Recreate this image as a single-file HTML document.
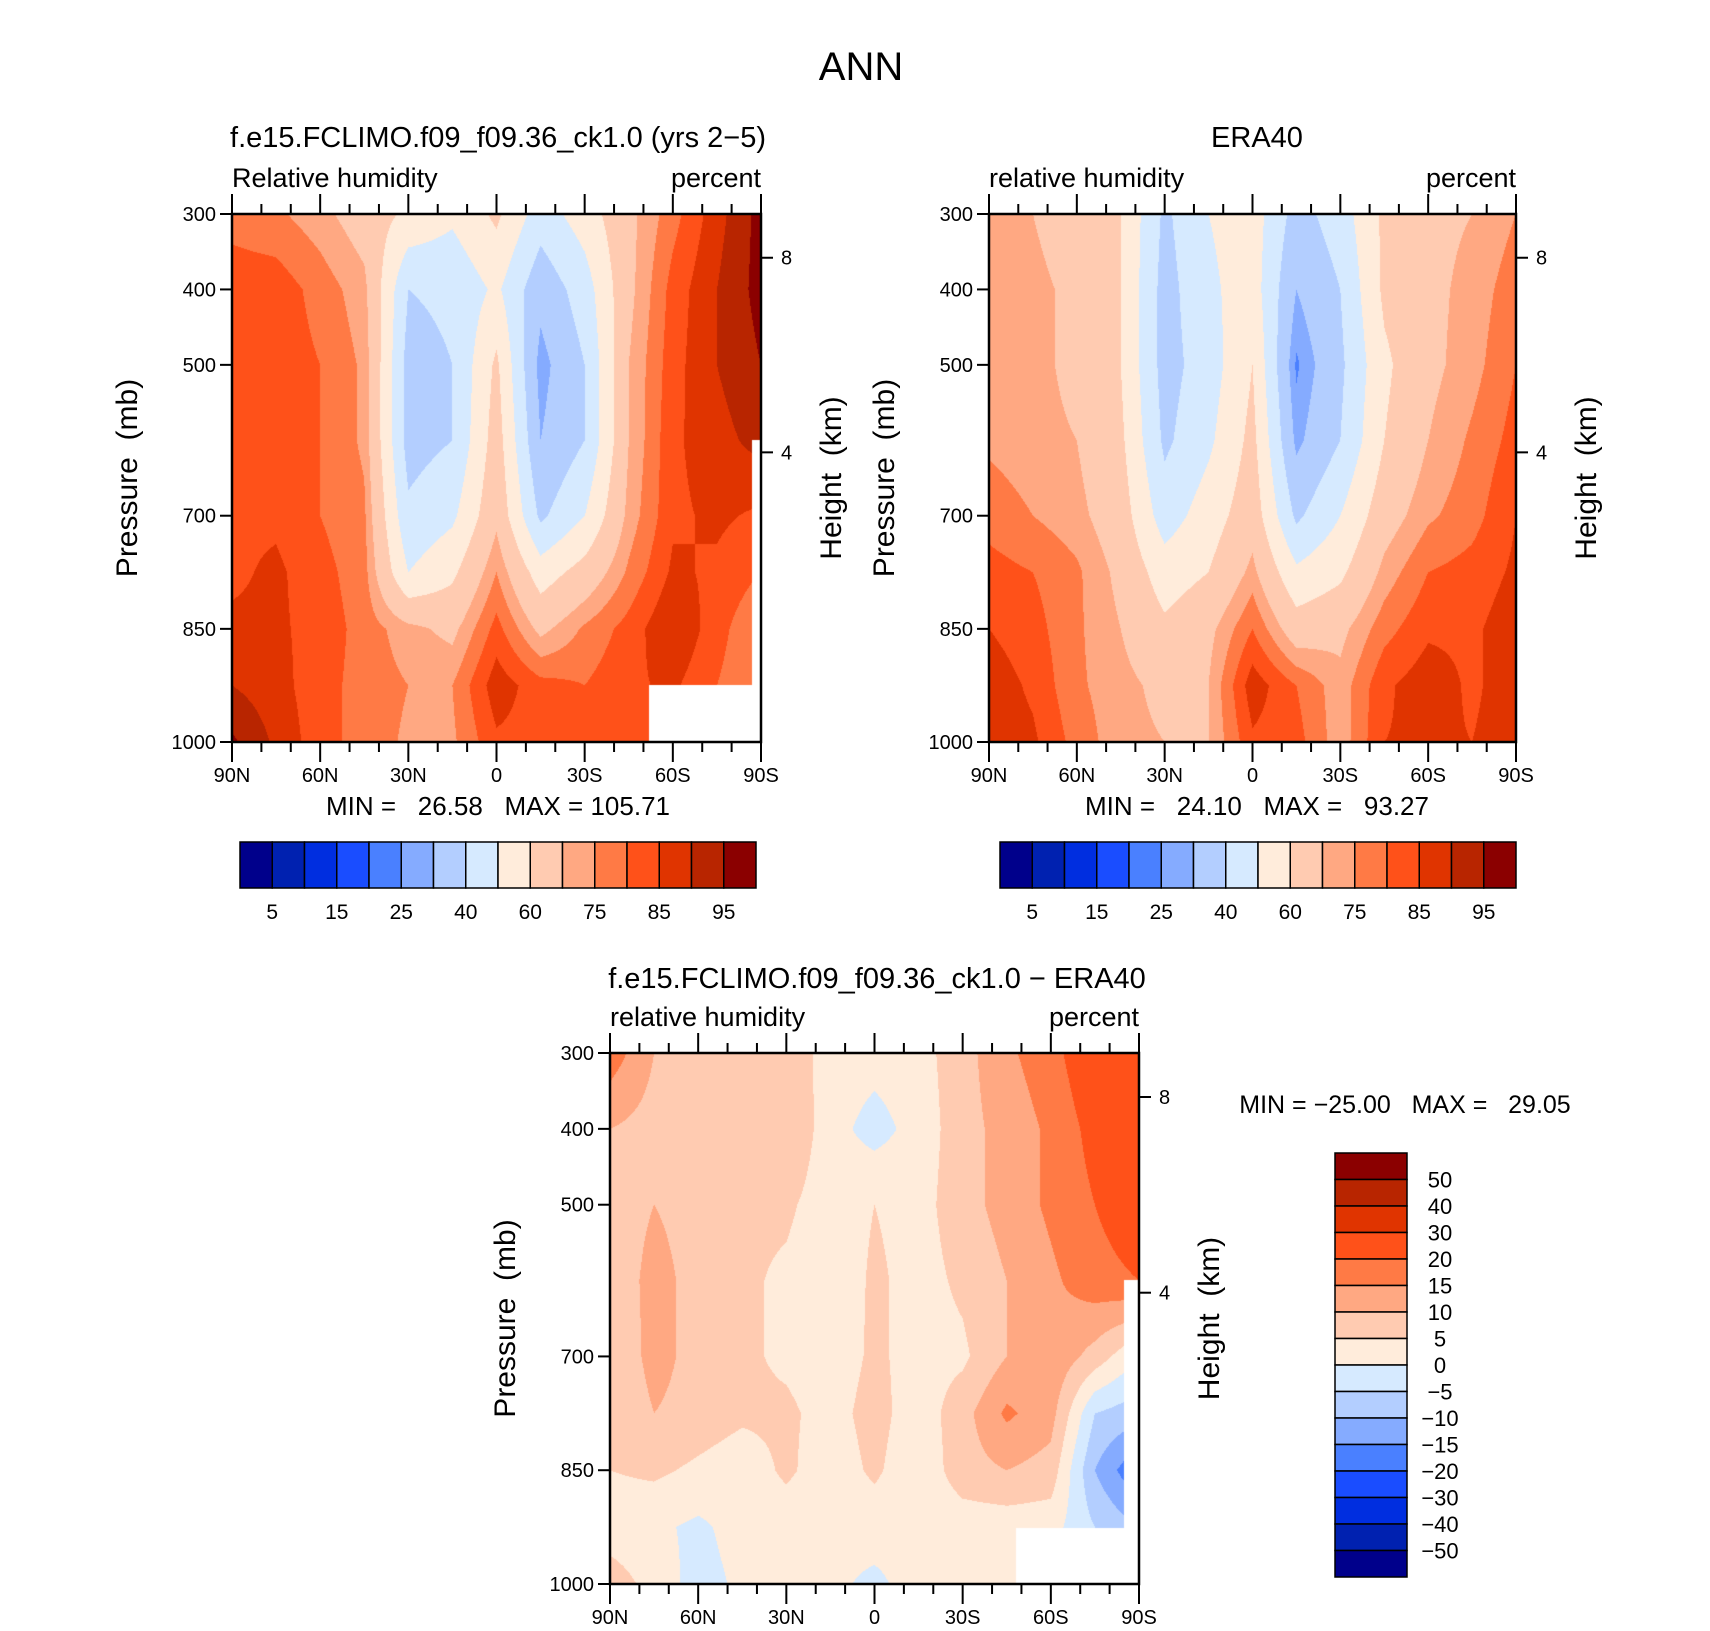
<!DOCTYPE html>
<html><head><meta charset="utf-8">
<style>
html,body{margin:0;padding:0;background:#fff;}
#wrap{position:relative;width:1710px;height:1631px;overflow:hidden;}
canvas{position:absolute;}
svg{position:absolute;left:0;top:0;}
text{font-family:"Liberation Sans",sans-serif;fill:#000;white-space:pre;}
</style></head>
<body>
<div id="wrap">
<canvas id="c1"></canvas>
<canvas id="c2"></canvas>
<canvas id="c3"></canvas>
<svg id="s" width="1710" height="1631"></svg>
</div>
<script>
// ---- data ----
const lats = [90,75,60,45,30,15,0,-15,-30,-45,-60,-75,-90];
const pres = [300,400,500,600,700,775,850,925,1000];
const modelRH = [
 [78,76,72,66,58,52,62,45,55,68,78,88,97],
 [83,83,78,72,40,42,52,33,45,68,82,90,97],
 [83,83,80,74,36,40,62,27,40,70,83,90,95],
 [83,83,80,74,36,40,65,30,40,70,84,88,92],
 [84,84,80,76,42,48,68,38,50,72,84,86,84],
 [84,86,82,77,50,58,75,55,64,76,86,84,80],
 [86,86,83,78,72,68,82,68,76,82,90,82,75],
 [90,87,82,78,75,75,88,82,80,84,86,80,75],
 [96,89,82,78,74,74,84,83,80,82,84,80,75]];
const eraRH = [
 [72,70,65,60,38,50,55,36,45,62,68,70,75],
 [73,72,68,60,36,48,55,30,40,62,68,72,78],
 [72,72,68,60,36,45,60,24,38,58,68,73,80],
 [74,72,70,62,38,48,63,28,40,60,70,76,82],
 [78,75,72,65,45,55,66,38,50,66,74,78,85],
 [82,80,76,68,55,60,72,52,58,72,80,82,86],
 [85,82,76,70,62,68,80,65,68,78,84,84,88],
 [88,84,76,72,68,70,88,80,72,84,88,84,88],
 [88,86,78,72,70,70,84,82,72,85,86,85,88]];
const diffRH = [
 [18,10,8,6,8,3,2,3,8,14,18,25,28],
 [10,8,8,6,10,2,-2,2,8,12,16,22,26],
 [7,10,8,6,6,2,5,3,8,12,16,20,24],
 [6,12,8,6,4,1,6,3,6,10,14,18,20],
 [5,12,8,6,4,2,6,3,4,10,14,8,0],
 [5,10,8,6,6,3,7,2,8,16,12,-5,-8],
 [5,6,4,2,6,2,6,1,8,10,8,-10,-20],
 [2,1,-1,2,2,1,2,1,2,2,2,-5,-10],
 [8,3,-2,1,4,1,-1,2,1,1,1,1,1]];
const rhLevels = [5,10,15,20,25,30,40,50,60,70,75,80,85,90,95];
const diffLevels = [-50,-40,-30,-20,-15,-10,-5,0,5,10,15,20,30,40,50];
const rhTickLabels = ["5","15","25","40","60","75","85","95"];
const diffTickLabels = ["50","40","30","20","15","10","5","0","\u22125","\u221210","\u221215","\u221220","\u221230","\u221240","\u221250"];
const colors = ["#00008b","#0021b0","#002ee0","#1a4dff","#4a80ff","#85abff","#b3ceff","#d6eaff","#ffecdb","#ffcbb1","#ffa882","#ff7a45","#ff5119","#e03400","#b82500","#8b0000"];
const pTicks = [300,400,500,700,850,1000];
const latTicks = [["90N",90],["60N",60],["30N",30],["0",0],["30S",-30],["60S",-60],["90S",-90]];
// missing-data regions [latFrom, latTo, pFrom, pTo]
const modelMissing = [[-52,-90,925,1000],[-87,-90,600,1000]];
const eraMissing = [];
const diffMissing = [[-48,-90,926,1000],[-85,-90,599,1000]];

const panels = [
 {id:"c1",x0:232,x1:761,y0:214,y1:742,data:modelRH,lev:rhLevels,miss:modelMissing},
 {id:"c2",x0:989,x1:1516,y0:214,y1:742,data:eraRH,lev:rhLevels,miss:eraMissing},
 {id:"c3",x0:610,x1:1139,y0:1053,y1:1584,data:diffRH,lev:diffLevels,miss:diffMissing}];

function hex(c){return [parseInt(c.substr(1,2),16),parseInt(c.substr(3,2),16),parseInt(c.substr(5,2),16)];}
const rgb = colors.map(hex);
function idxOf(v,lev){let i=0;while(i<lev.length&&v>=lev[i])i++;return i;}
function interp(data,lat,p){
  let fx=(90-lat)/15; let i=Math.min(Math.floor(fx),lats.length-2); let tx=fx-i;
  let j=0; while(j<pres.length-2&&p>pres[j+1])j++;
  let ty=(p-pres[j])/(pres[j+1]-pres[j]);
  const a=data[j][i],b=data[j][i+1],c=data[j+1][i],d=data[j+1][i+1];
  return (a*(1-tx)+b*tx)*(1-ty)+(c*(1-tx)+d*tx)*ty;
}
panels.forEach(P=>{
  const cv=document.getElementById(P.id);
  const w=P.x1-P.x0,h=P.y1-P.y0;
  cv.width=w;cv.height=h;cv.style.left=P.x0+"px";cv.style.top=P.y0+"px";
  const ctx=cv.getContext("2d");const im=ctx.createImageData(w,h);
  for(let y=0;y<h;y++){const p=300+700*(y+0.5)/h;
    for(let x=0;x<w;x++){const lat=90-180*(x+0.5)/w;
      let col=rgb[idxOf(interp(P.data,lat,p),P.lev)];
      for(const m of P.miss){ if(lat<=m[0]&&lat>=m[1]&&p>=m[2]&&p<=m[3]) col=[255,255,255]; }
      const k=(y*w+x)*4;im.data[k]=col[0];im.data[k+1]=col[1];im.data[k+2]=col[2];im.data[k+3]=255;}}
  ctx.putImageData(im,0,0);
});

// ---- overlay ----
const S=document.getElementById("s");const NS="http://www.w3.org/2000/svg";
function el(tag,attrs,txt){const e=document.createElementNS(NS,tag);for(const k in attrs)e.setAttribute(k,attrs[k]);if(txt!==undefined)e.textContent=txt;S.appendChild(e);return e;}
function txt(x,y,s,size,anchor,name,rot){const e=el("text",{x:x,y:y,"font-size":size,"text-anchor":anchor||"middle"},s);
  if(rot)e.setAttribute("transform","rotate(-90 "+x+" "+y+")");
  
  
  return e;}

txt(861,80,"ANN",40,"middle","main-title");
const titles=[["f.e15.FCLIMO.f09_f09.36_ck1.0 (yrs 2\u22125)",498,147],["ERA40",1257,147],["f.e15.FCLIMO.f09_f09.36_ck1.0 \u2212 ERA40",877,988]];
titles.forEach((a,i)=>txt(a[1],a[2],a[0],29,"middle","panel-title-"+(i+1)));
const leftLab=["Relative humidity","relative humidity","relative humidity"];
const mm=[["MIN =   26.58   MAX = 105.71",498,815],["MIN =   24.10   MAX =   93.27",1257,815]];

panels.forEach((P,pi)=>{
  const w=P.x1-P.x0,h=P.y1-P.y0;
  const X=lat=>P.x0+(90-lat)/180*w, Y=p=>P.y0+(p-300)/700*h;
  txt(P.x0,P.y0-27,leftLab[pi],27,"start","variable-label-"+(pi+1));
  txt(P.x1,P.y0-27,"percent",27,"end","units-label-"+(pi+1));
  const fr=el("rect",{x:P.x0,y:P.y0,width:w,height:h,fill:"none",stroke:"#000","stroke-width":2.5});
  
  
  for(let lat=90;lat>=-90;lat-=10){const maj=lat%30===0;const L=maj?20:10;const x=X(lat);
    el("line",{x1:x,y1:P.y0,x2:x,y2:P.y0-L,stroke:"#000","stroke-width":2});
    el("line",{x1:x,y1:P.y1,x2:x,y2:P.y1+L,stroke:"#000","stroke-width":2});}
  latTicks.forEach(a=>txt(X(a[1]),P.y1+40,a[0],20,"middle","x-tick-label"));
  pTicks.forEach(p=>{el("line",{x1:P.x0,y1:Y(p),x2:P.x0-12,y2:Y(p),stroke:"#000","stroke-width":2});
    txt(P.x0-16,Y(p)+7,String(p),20,"end","y-tick-label");});
  [[8,358],[4,616]].forEach(a=>{el("line",{x1:P.x1,y1:Y(a[1]),x2:P.x1+12,y2:Y(a[1]),stroke:"#000","stroke-width":2});
    txt(P.x1+20,Y(a[1])+7,String(a[0]),20,"start","height-tick-label");});
  txt(P.x0-95,(P.y0+P.y1)/2,"Pressure  (mb)",30,"middle","y-axis-title",true);
  txt(P.x1+80,(P.y0+P.y1)/2,"Height  (km)",30,"middle","height-axis-title",true);
});
mm.forEach(a=>txt(a[1],a[2],a[0],26,"middle","min-max-label"));
txt(1405,1113,"MIN = \u221225.00   MAX =   29.05",25,"middle","diff-min-max-label");

// horizontal colorbars
[[240,756],[1000,1516]].forEach((cb,ci)=>{
  const bw=(cb[1]-cb[0])/colors.length;
  colors.forEach((c,i)=>{const r=el("rect",{x:cb[0]+i*bw,y:842,width:bw,height:46,fill:c,stroke:"#000","stroke-width":1.5});
    
    });
  rhTickLabels.forEach((s,k)=>txt(cb[0]+(2*k+1)*bw,919,s,21,"middle","colorbar-label"));
});
// vertical colorbar
const vb={x:1335,y0:1153,y1:1577};const bh=(vb.y1-vb.y0)/colors.length;
colors.slice().reverse().forEach((c,i)=>{const r=el("rect",{x:vb.x,y:vb.y0+i*bh,width:72,height:bh,fill:c,stroke:"#000","stroke-width":1.5});
  
  });
diffTickLabels.forEach((s,k)=>txt(1440,vb.y0+(k+1)*bh+8,s,22,"middle","diff-colorbar-label"));
</script>
</body></html>
